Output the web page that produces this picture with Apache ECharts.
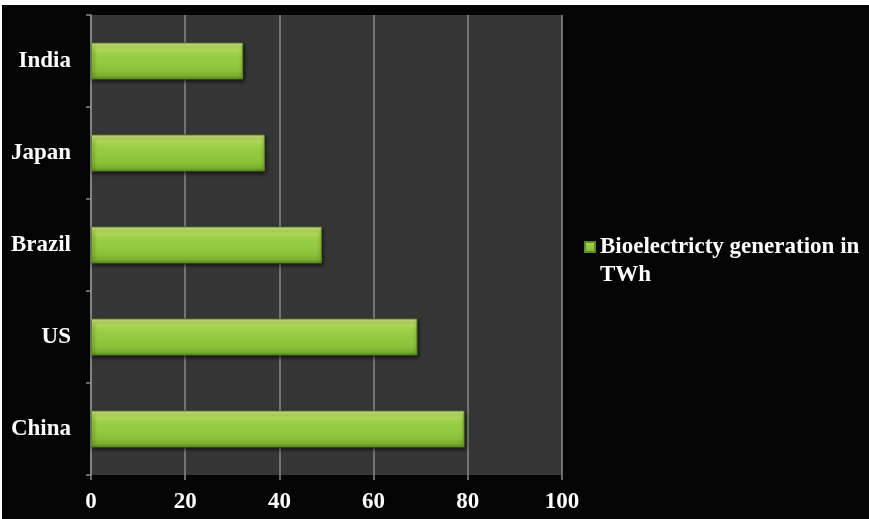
<!DOCTYPE html>
<html>
<head>
<meta charset="utf-8">
<script src="https://cdn.jsdelivr.net/npm/echarts@6/dist/echarts.min.js"></script>
<style>
  html, body { margin: 0; padding: 0; background: #ffffff; }
  #chart { position: absolute; left: 2px; top: 5px; width: 867px; height: 514px; background: #040404; }
</style>
</head>
<body>
<div id="chart"></div>
<script>
// Bioelectricity generation by country (TWh)
const countries = ['China', 'US', 'Brazil', 'Japan', 'India'];
const generationTWh = [79.3, 69.3, 49.0, 36.9, 32.3];
const xTicks = [0, 20, 40, 60, 80, 100];
const seriesName = 'Bioelectricty generation in TWh';

const chart = echarts.init(document.getElementById('chart'));

const barFill = new echarts.graphic.LinearGradient(0, 0, 0, 1, [
  { offset: 0, color: '#e2f59a' },
  { offset: 0.12, color: '#b9e062' },
  { offset: 0.3, color: '#9ccf45' },
  { offset: 0.75, color: '#8cc23a' },
  { offset: 0.92, color: '#78ad2e' },
  { offset: 1, color: '#5a8620' }
]);

const serif = '"Liberation Serif", "Times New Roman", serif';

chart.setOption({
  backgroundColor: '#040404',
  animation: false,
  grid: {
    left: 89, right: 307, top: 10, bottom: 44,
    show: true,
    backgroundColor: '#363636',
    borderWidth: 0
  },
  xAxis: {
    type: 'value',
    min: xTicks[0],
    max: xTicks[xTicks.length - 1],
    interval: xTicks[1] - xTicks[0],
    axisLine: { show: false },
    axisTick: { show: true, length: 5, lineStyle: { color: '#8a8a8a', width: 1.5 } },
    splitLine: { show: true, lineStyle: { color: '#8a8a8a', width: 1.5 } },
    axisLabel: {
      color: '#ffffff', fontFamily: serif, fontWeight: 'bold', fontSize: 23, margin: 16
    }
  },
  yAxis: {
    type: 'category',
    data: countries,
    axisLine: { show: true, lineStyle: { color: '#8a8a8a', width: 1.5 } },
    axisTick: { show: true, length: 5, lineStyle: { color: '#8a8a8a', width: 1.5 } },
    splitLine: { show: false },
    axisLabel: {
      color: '#ffffff', fontFamily: serif, fontWeight: 'bold', fontSize: 23, margin: 20
    }
  },
  legend: {
    show: true,
    left: 577,
    top: 195,
    orient: 'vertical',
    itemWidth: 10,
    itemHeight: 10,
    itemGap: 6,
    icon: 'rect',
    // leading empty line keeps the marker level with the first text line
    formatter: function (name) {
      const cut = name.lastIndexOf(' ');
      return '\n' + name.slice(0, cut) + '\n' + name.slice(cut + 1);
    },
    textStyle: {
      color: '#ffffff', fontFamily: serif, fontWeight: 'bold', fontSize: 23,
      lineHeight: 28
    }
  },
  series: [{
    name: seriesName,
    type: 'bar',
    data: generationTWh,
    barWidth: '40%',
    itemStyle: {
      color: barFill,
      borderColor: '#5f8a22',
      borderWidth: 1,
      shadowColor: 'rgba(0,0,0,0.7)',
      shadowBlur: 4,
      shadowOffsetX: 1,
      shadowOffsetY: 2
    }
  }]
});
</script>
</body>
</html>
